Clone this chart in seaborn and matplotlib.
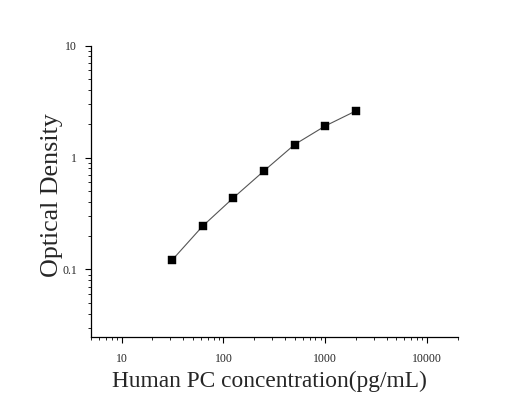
import matplotlib
matplotlib.use("Agg")
import matplotlib.pyplot as plt
import matplotlib.ticker as mticker
import seaborn as sns
import pandas as pd

concentration = [31.25, 62.5, 125, 250, 500, 1000, 2000]
optical_density = [0.121, 0.244, 0.436, 0.759, 1.306, 1.915, 2.61]
x_ticks = [10, 100, 1000, 10000]
x_tick_labels = ["10", "100", "1000", "10000"]
y_ticks = [0.1, 1, 10]
y_tick_labels = ["0.1", "1", "10"]

df = pd.DataFrame({"conc": concentration, "od": optical_density})

sns.set_style("ticks")
plt.rcParams["font.family"] = ["Liberation Serif", "DejaVu Serif"]

fig = plt.figure(figsize=(5.31, 4.0), dpi=100)
ax = fig.add_axes([0.1714, 0.158, 0.862 - 0.1714, 0.886 - 0.158])

sns.lineplot(data=df, x="conc", y="od", ax=ax, color="#555555", linewidth=0.8)
sns.scatterplot(data=df, x="conc", y="od", ax=ax, marker="s", s=30,
                color="black", edgecolor="black", linewidth=0.3, zorder=3)

ax.set_xscale("log")
ax.set_yscale("log")
ax.set_xlim(5, 20000)
ax.set_ylim(0.025, 10)

ax.set_xticks(x_ticks)
ax.set_xticklabels(x_tick_labels)
ax.set_yticks(y_ticks)
ax.set_yticklabels(y_tick_labels)
ax.xaxis.set_minor_locator(mticker.LogLocator(base=10, subs=range(2, 10), numticks=20))
ax.yaxis.set_minor_locator(mticker.LogLocator(base=10, subs=range(2, 10), numticks=20))
ax.xaxis.set_minor_formatter(mticker.NullFormatter())
ax.yaxis.set_minor_formatter(mticker.NullFormatter())

ax.tick_params(axis="both", which="major", direction="out", length=4, width=0.8,
               labelsize=8.5, color="black", pad=6)
ax.tick_params(axis="x", which="major", pad=8)
ax.tick_params(axis="both", which="minor", direction="out", length=2, width=0.6,
               color="black")

for side in ["top", "right"]:
    ax.spines[side].set_visible(False)
for side in ["left", "bottom"]:
    ax.spines[side].set_color("black")
    ax.spines[side].set_linewidth(0.9)

ax.set_xlabel("Human PC concentration(pg/mL)", fontsize=16.8)
ax.set_ylabel("Optical Density", fontsize=18.7)
ax.xaxis.set_label_coords(0.487, -0.118)
ax.yaxis.set_label_coords(-0.076, 0.485)

fig.savefig("out.png", dpi=100)
